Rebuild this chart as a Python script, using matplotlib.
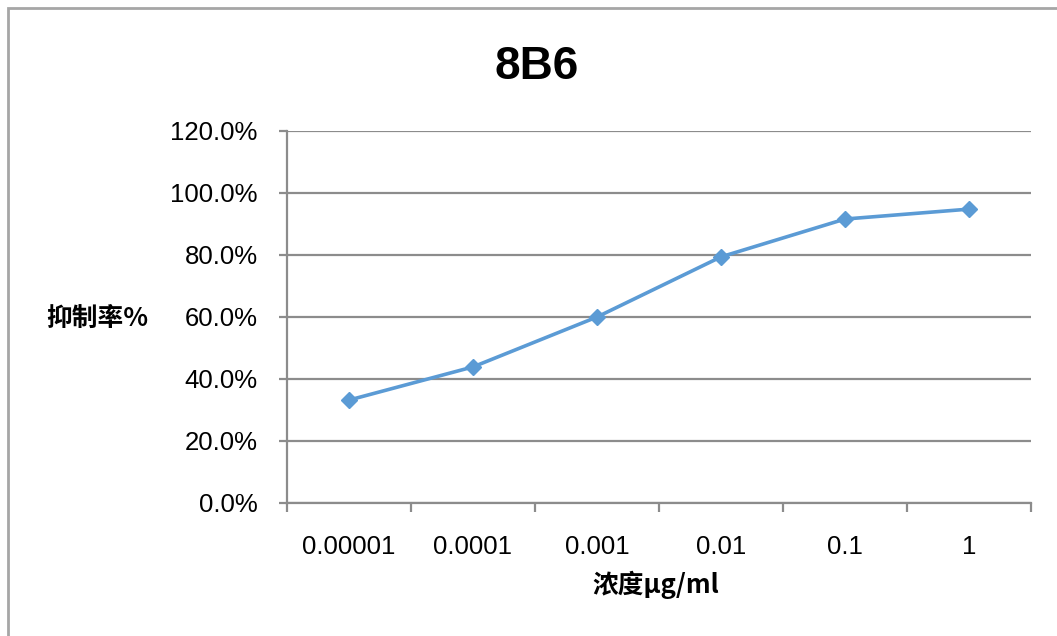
import matplotlib
matplotlib.use("Agg")
import matplotlib.pyplot as plt
from matplotlib.patches import Rectangle
from matplotlib.ticker import FixedLocator, FixedFormatter, PercentFormatter

categories = ["0.00001", "0.0001", "0.001", "0.01", "0.1", "1"]
inhibition = [33.2, 43.9, 60.0, 79.4, 91.6, 94.8]
y_ticks = [0, 20, 40, 60, 80, 100, 120]
title = "8B6"
ylabel = "抑制率%"
xlabel = "浓度μg/ml"

W, H = 1057, 636
fig = plt.figure(figsize=(W / 100, H / 100), dpi=100)
fig.patch.set_facecolor("white")

# outer chart border
fig.patches.append(Rectangle((8 / W, -0.1), 1.2, 1 - 8 / H + 0.1, transform=fig.transFigure,
                             fill=False, edgecolor="#a6a6a6", linewidth=2.0))

ax = fig.add_axes([287 / W, 1 - 503 / H, (1031 - 287) / W, (503 - 131) / H])
grid_c = "#8c8c8c"

x = list(range(len(categories)))
ax.plot(x, inhibition, color="#5B9BD5", linewidth=2.6, marker="D", markersize=8.5,
        markeredgecolor="#5B9BD5", markerfacecolor="#5B9BD5", zorder=3)

ax.set_xlim(-0.5, len(categories) - 0.5)
ax.set_ylim(0, 120)
ax.set_yticks(y_ticks)
ax.yaxis.set_major_formatter(PercentFormatter(decimals=1))
ax.yaxis.grid(True, color=grid_c, linewidth=1.6)
ax.set_axisbelow(True)

ax.xaxis.set_major_locator(FixedLocator([i - 0.5 for i in range(len(categories) + 1)]))
ax.xaxis.set_major_formatter(FixedFormatter([""] * (len(categories) + 1)))
ax.xaxis.set_minor_locator(FixedLocator(x))
ax.xaxis.set_minor_formatter(FixedFormatter(categories))

for s in ["top", "right"]:
    ax.spines[s].set_visible(False)
for s in ["left", "bottom"]:
    ax.spines[s].set_color(grid_c)
    ax.spines[s].set_linewidth(1.6)

ax.tick_params(axis="x", which="major", length=6.5, width=1.6, color=grid_c, direction="out")
ax.tick_params(axis="x", which="minor", length=0, pad=23, labelsize=18.5, labelcolor="black")
ax.tick_params(axis="y", which="major", length=6, width=1.6, color=grid_c, pad=15,
               labelsize=18.5, labelcolor="black")
for lab in ax.get_xticklabels(minor=True) + ax.get_yticklabels():
    lab.set_fontfamily("Liberation Sans")

ax.set_ylabel(ylabel, rotation=0, fontsize=18.5, fontweight="bold",
              family=["Noto Sans CJK SC", "DejaVu Sans"], ha="center", va="center")
ax.yaxis.set_label_coords((97 - 287) / 744, (503 - 318) / 372)
ax.set_xlabel(xlabel, fontsize=18.5, fontweight="bold",
              family=["Noto Sans CJK SC", "DejaVu Sans"], ha="center", va="center")
ax.xaxis.set_label_coords((656 - 287) / 744, (503 - 585) / 372)

fig.text(537 / W, 1 - 67 / H, title, fontsize=33, fontweight="bold",
         family="Liberation Sans", ha="center", va="center")

fig.savefig("out.png", dpi=100)
